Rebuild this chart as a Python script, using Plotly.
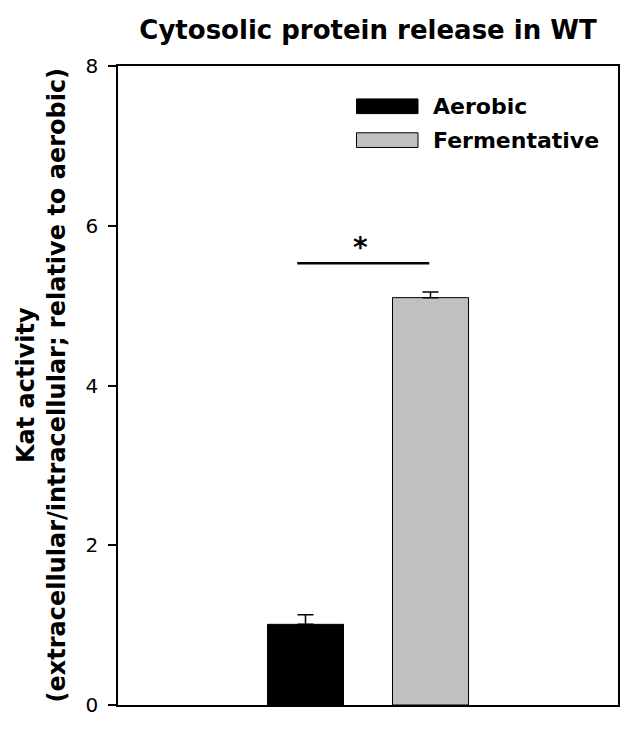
import plotly.graph_objects as go

# data
conditions = ["Aerobic", "Fermentative"]
positions = [0, 1]
kat_activity = [1.01, 5.10]
kat_error = [0.12, 0.07]
bar_colors = ["#000000", "#c0c0c0"]

sig_x = [-0.066, 0.99]
sig_y = [5.53, 5.53]
sig_label = "*"

yticks = [0, 2, 4, 6, 8]

FONT = "DejaVu Sans"

fig = go.Figure()

for pos, name, val, err, col in zip(positions, conditions, kat_activity, kat_error, bar_colors):
    fig.add_trace(go.Bar(
        x=[pos], y=[val], name=name, width=0.608,
        marker=dict(color=col, line=dict(color="black", width=1)),
        error_y=dict(type="data", array=[err], arrayminus=[0], symmetric=False,
                     color="black", thickness=1.5, width=8),
        showlegend=False,
    ))

# significance bar
fig.add_trace(go.Scatter(x=sig_x, y=sig_y, mode="lines",
                         line=dict(color="black", width=2.5), showlegend=False,
                         hoverinfo="skip"))
fig.add_annotation(x=0.44, y=sig_y[0] - 0.04, text="<b>" + sig_label + "</b>",
                   showarrow=False, yanchor="bottom",
                   font=dict(family=FONT, size=28, color="black"))

# hand-drawn legend (wide swatches like the original)
legend_rows = [(0.937, bar_colors[0], conditions[0]), (0.884, bar_colors[1], conditions[1])]
for yc, col, name in legend_rows:
    fig.add_shape(type="rect", xref="paper", yref="paper",
                  x0=0.477, x1=0.600, y0=yc - 0.0115, y1=yc + 0.0115,
                  fillcolor=col, line=dict(color="black", width=1))
    fig.add_annotation(xref="paper", yref="paper", x=0.625, y=yc, text="<b>" + name + "</b>",
                       showarrow=False, xanchor="left", yanchor="middle",
                       font=dict(family=FONT, size=22, color="black"))

# y-axis title as two rotated lines
fig.add_annotation(xref="paper", yref="paper", x=-0.154, y=0.5, textangle=-90,
                   text="<b>Kat activity</b><br><b>(extracellular/intracellular; relative to aerobic)</b>",
                   showarrow=False, xanchor="center", yanchor="middle",
                   font=dict(family=FONT, size=24, color="black"))

# page body adds an 8px margin, so the figure is 8px smaller and shifted
fig.update_layout(
    width=636, height=722,
    margin=dict(l=110, r=26, t=58, b=25),
    paper_bgcolor="white", plot_bgcolor="white",
    barmode="overlay",
    title=dict(text="<b>Cytosolic protein release in WT</b>", x=0.5, xref="paper",
               y=0.9695, yanchor="middle", xanchor="center",
               font=dict(family=FONT, size=26, color="black")),
    font=dict(family=FONT, color="black"),
)
fig.update_xaxes(range=[-1.5, 2.5], showticklabels=False, ticks="", showgrid=False,
                 zeroline=False, showline=True, linecolor="black", linewidth=1.5, mirror=True)
fig.update_yaxes(range=[0, 8], tickvals=yticks, ticks="outside", ticklen=8, tickwidth=1.5,
                 tickcolor="black", showgrid=False, zeroline=False, showline=True,
                 linecolor="black", linewidth=1.5, mirror=True, ticklabelstandoff=6,
                 tickfont=dict(family=FONT, size=20, color="black"))

fig.write_html("out.html")
